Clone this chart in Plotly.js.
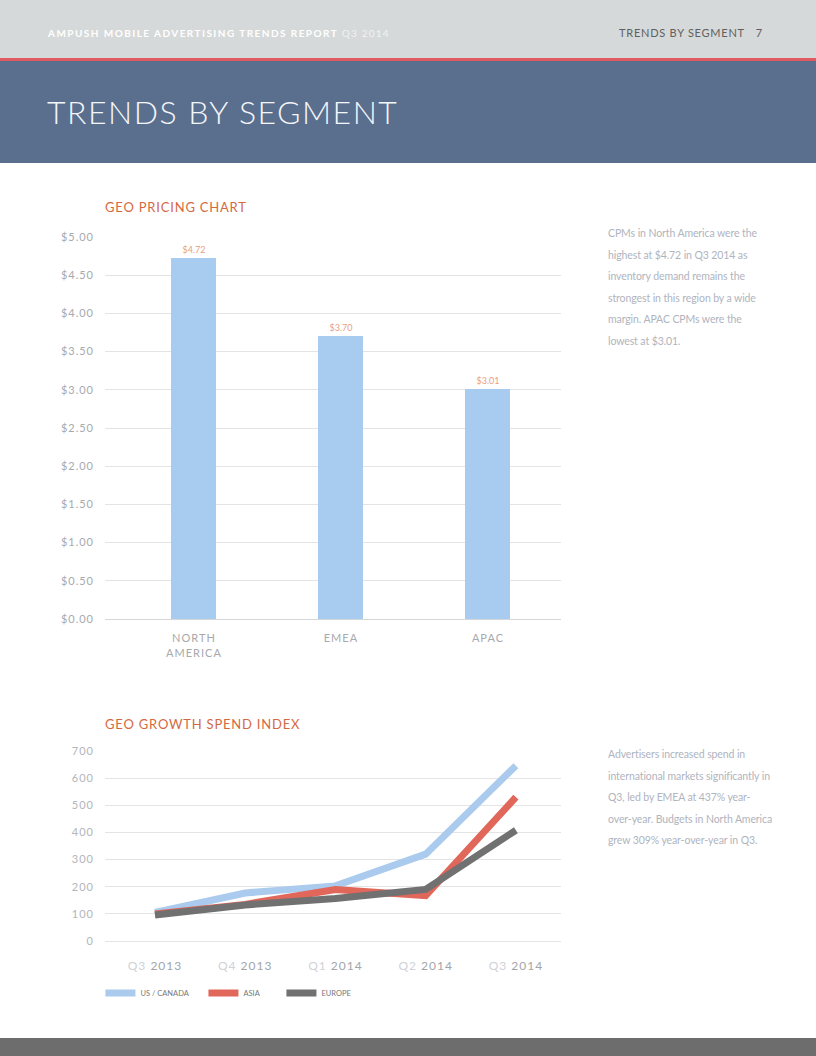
<!DOCTYPE html>
<html>
<head>
<meta charset="utf-8">
<script src="https://cdn.plot.ly/plotly-3.0.1.min.js"></script>
<style>
  html, body { margin:0; padding:0; }
  body { width:816px; height:1056px; position:relative; overflow:hidden; background:#fff; font-family: Lato, "Open Sans", sans-serif; }
  #topbar { position:absolute; left:0; top:0; width:816px; height:58px; background:#d6d9d9; }
  #redline { position:absolute; left:0; top:58px; width:816px; height:3px; background:#e05a62; }
  #band { position:absolute; left:0; top:61px; width:816px; height:102px; background:#5a6e8d; }
  #hdrL { position:absolute; left:48px; top:27px; font-size:10px; font-weight:700; color:#fff; letter-spacing:1.45px; }
  #hdrL span { font-weight:400; color:#f2f2f2; letter-spacing:1.2px; }
  #hdrR { position:absolute; left:619px; top:26px; font-size:11px; color:#606060; letter-spacing:0.75px; }
  #hdrR span { margin-left:11px; }
  #bigtitle { position:absolute; left:47px; top:92px; font-size:32px; font-family: "Lato Light", "Lato Hairline", Lato, sans-serif; font-weight:300; color:#f4f6fa; letter-spacing:1.5px; }
  .side { position:absolute; left:608px; width:180px; font-size:10.5px; line-height:21.5px; color:#b0b4be; letter-spacing:-0.1px; }
  #bottom { position:absolute; left:0; top:1038px; width:816px; height:18px; background:#6d6d6d; }
  #chart1 { position:absolute; left:0; top:180px; width:816px; height:500px; }
  #chart2 { position:absolute; left:0; top:700px; width:816px; height:330px; }
  .xtick text, .ytick text { letter-spacing:1px; }
  .gtitle { letter-spacing:0.8px; }
</style>
</head>
<body>
<div id="topbar"></div>
<div id="redline"></div>
<div id="band"></div>
<div id="hdrL">AMPUSH MOBILE ADVERTISING TRENDS REPORT <span>Q3 2014</span></div>
<div id="hdrR">TRENDS BY SEGMENT<span>7</span></div>
<div id="bigtitle">TRENDS BY SEGMENT</div>
<div class="side" style="top:223px;">CPMs in North America were the<br>highest at $4.72 in Q3 2014 as<br>inventory demand remains the<br>strongest in this region by a wide<br>margin. APAC CPMs were the<br>lowest at $3.01.</div>
<div class="side" style="top:744px;">Advertisers increased spend in<br>international markets significantly in<br>Q3, led by EMEA at 437% year-<br>over-year. Budgets in North America<br>grew 309% year-over-year in Q3.</div>
<div id="chart1"></div>
<div id="chart2"></div>
<div id="bottom"></div>
<script>
// ---- Geo pricing chart data ----
const regions = ["NORTH<br>AMERICA", "EMEA", "APAC"];
const cpm = [4.72, 3.70, 3.01];
const cpmLabels = ["$4.72", "$3.70", "$3.01"];

// ---- Geo growth spend index data ----
const quarters = ["Q3 2013", "Q4 2013", "Q1 2014", "Q2 2014", "Q3 2014"];
const quarterLabels = [
  '<span style="color:#cfd2d6">Q3</span> 2013',
  '<span style="color:#cfd2d6">Q4</span> 2013',
  '<span style="color:#cfd2d6">Q1</span> 2014',
  '<span style="color:#cfd2d6">Q2</span> 2014',
  '<span style="color:#cfd2d6">Q3</span> 2014'
];
const usCanada = [105, 177, 203, 320, 646];
const asia = [100, 135, 190, 167, 530];
const europe = [96, 133, 157, 190, 408];
const legendWidths = [58, 33, 40];

const font = "Lato, 'Open Sans', sans-serif";
const gridColor = "#e3e4e6";

// Chart 1
Plotly.newPlot("chart1", [{
  type: "bar",
  x: regions,
  y: cpm,
  width: 0.306,
  marker: { color: "#a8ccf0" },
  text: cpmLabels,
  textposition: "outside",
  textfont: { family: font, size: 9, color: "#eaa084" },
  cliponaxis: false,
  hoverinfo: "none"
}], {
  width: 816, height: 500,
  margin: { l: 105, r: 255, t: 57, b: 61 },
  paper_bgcolor: "rgba(0,0,0,0)", plot_bgcolor: "rgba(0,0,0,0)",
  showlegend: false,
  title: { text: "GEO PRICING CHART", font: { family: font, size: 13, color: "#d4693f" },
           xref: "paper", x: 0, xanchor: "left", yref: "container", y: 1 - 27/500, yanchor: "middle" },
  xaxis: {
    range: [-0.605, 2.497], showgrid: false, zeroline: false,
    showline: true, linecolor: "#d6d7da", linewidth: 1,
    ticks: "", tickfont: { family: font, size: 11, color: "#a7a9ad" }, ticklabelstandoff: 9,
    fixedrange: true
  },
  yaxis: {
    range: [0, 5], dtick: 0.5, tickprefix: "$", tickformat: ".2f",
    showgrid: true, gridcolor: gridColor, zeroline: false, showline: false,
    ticks: "", tickfont: { family: font, size: 11, color: "#a7a9ad" }, ticklabelstandoff: 10,
    fixedrange: true
  },
  bargap: 0
}, { staticPlot: true });

// Chart 2
const lineTrace = (name, y, color, lw) => ({
  type: "scatter", mode: "lines", name: name, x: quarters, y: y,
  line: { color: color, width: 7 }, legendwidth: lw, hoverinfo: "none"
});
Plotly.newPlot("chart2", [
  lineTrace("US / CANADA", usCanada, "#aacbee", legendWidths[0]),
  lineTrace("ASIA", asia, "#e0675a", legendWidths[1]),
  lineTrace("EUROPE", europe, "#717171", legendWidths[2])
], {
  width: 816, height: 330,
  margin: { l: 105, r: 255, t: 51, b: 89 },
  paper_bgcolor: "rgba(0,0,0,0)", plot_bgcolor: "rgba(0,0,0,0)",
  title: { text: "GEO GROWTH SPEND INDEX", font: { family: font, size: 13, color: "#d4693f" },
           xref: "paper", x: 0, xanchor: "left", yref: "container", y: 1 - 24/330, yanchor: "middle" },
  xaxis: {
    range: [-0.554, 4.5], showgrid: false, zeroline: false, showline: false,
    tickmode: "array", tickvals: quarters, ticktext: quarterLabels,
    ticks: "", tickfont: { family: font, size: 12, color: "#a3a5a9" }, ticklabelstandoff: 16,
    fixedrange: true
  },
  yaxis: {
    range: [0, 700], dtick: 100,
    showgrid: true, gridcolor: gridColor, zeroline: true, zerolinecolor: gridColor, showline: false,
    ticks: "", tickfont: { family: font, size: 11, color: "#b3b5b9" }, ticklabelstandoff: 10,
    fixedrange: true
  },
  showlegend: true,
  legend: {
    orientation: "h", x: -0.01, xanchor: "left", y: -0.274, yanchor: "middle",
    font: { family: font, size: 7.5, color: "#777" }, itemwidth: 30,
    bgcolor: "rgba(0,0,0,0)"
  }
}, { staticPlot: true });
</script>
</body>
</html>
